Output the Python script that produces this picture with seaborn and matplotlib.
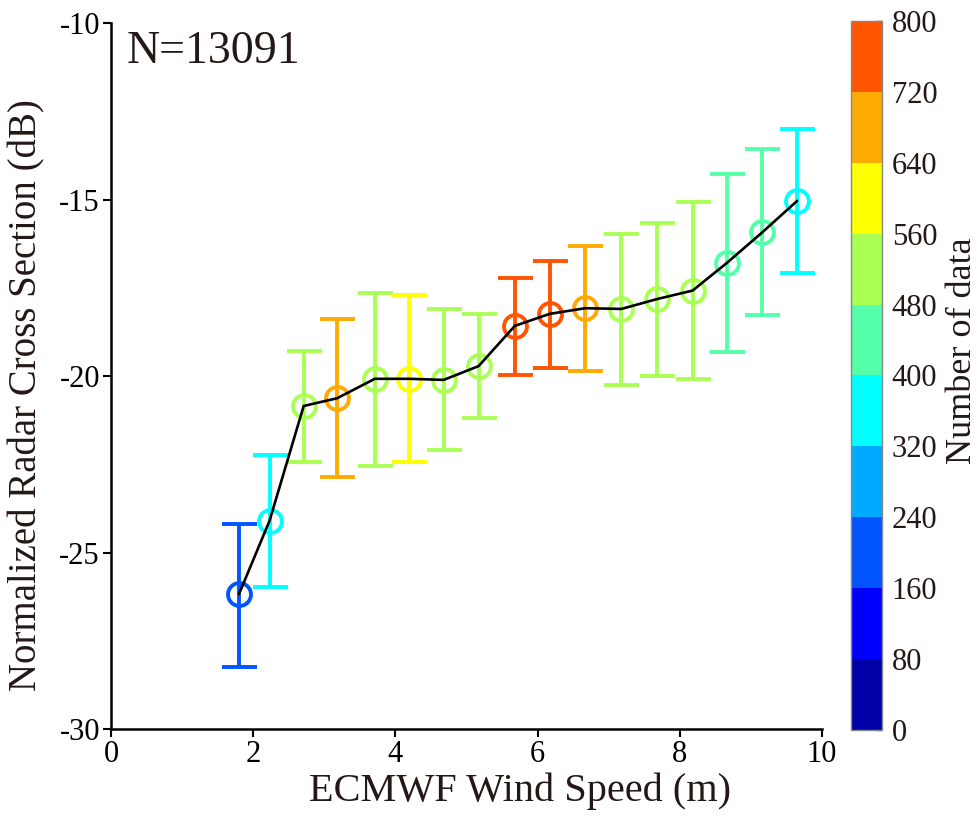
import numpy as np
import pandas as pd
import matplotlib
matplotlib.use("Agg")
import matplotlib.pyplot as plt
from matplotlib.colors import ListedColormap, BoundaryNorm
import seaborn as sns

# ---- data ----
wind = [1.80, 2.23, 2.71, 3.18, 3.71, 4.19, 4.68, 5.17, 5.68, 6.17, 6.67, 7.18, 7.68, 8.18, 8.66, 9.16, 9.65]
nrcs = [-26.18, -24.10, -20.85, -20.63, -20.08, -20.08, -20.11, -19.72, -18.58, -18.24, -18.08, -18.10, -17.82, -17.58, -16.80, -15.93, -15.04]
upper = [-24.20, -22.23, -19.29, -18.39, -17.65, -17.70, -18.11, -18.24, -17.21, -16.73, -16.32, -15.98, -15.66, -15.06, -14.27, -13.58, -13.00]
lower = [-28.23, -25.97, -22.45, -22.87, -22.54, -22.45, -22.10, -21.20, -19.96, -19.77, -19.85, -20.25, -19.99, -20.09, -19.31, -18.27, -17.09]
counts = [200, 360, 520, 680, 540, 600, 530, 500, 750, 760, 700, 550, 540, 520, 470, 440, 380]
cbar_ticks = [0, 80, 160, 240, 320, 400, 480, 560, 640, 720, 800]
level_colors = ["#0000A8", "#0000FF", "#0055FF", "#00AAFF", "#00FFFF",
                "#55FFAA", "#AAFF55", "#FFFF00", "#FFAA00", "#FF5500"]
n_total = "N=13091"

df = pd.DataFrame({"wind": wind, "nrcs": nrcs, "upper": upper, "lower": lower, "count": counts})

sns.set_theme(style="ticks")
plt.rcParams["font.family"] = ["Liberation Serif", "DejaVu Serif"]
plt.rcParams["axes.unicode_minus"] = False

cmap = ListedColormap(level_colors)
norm = BoundaryNorm(cbar_ticks, cmap.N)

fig = plt.figure(figsize=(9.78, 8.27), dpi=100)
ax = fig.add_axes([111/978, 1-729/827, (822-111)/978, (729-23)/827])
cax = fig.add_axes([851/978, 1-730/827, 31/978, (730-21)/827])

for _, r in df.iterrows():
    c = cmap(norm(r["count"]))
    ax.errorbar(r["wind"], r["nrcs"],
                yerr=[[r["nrcs"] - r["lower"]], [r["upper"] - r["nrcs"]]],
                fmt="o", mfc="none", mec=c, ecolor=c, ms=16.5, mew=2.8,
                elinewidth=2.8, capsize=12.6, capthick=2.8, zorder=2)

sns.lineplot(data=df, x="wind", y="nrcs", color="black", lw=1.9, ax=ax,
             zorder=3, estimator=None, sort=False)

ax.set_xlim(0, 10)
ax.set_ylim(-30, -10)
ax.set_xticks([0, 2, 4, 6, 8, 10])
ax.set_yticks([-30, -25, -20, -15, -10])
ax.tick_params(axis="both", direction="out", length=6, width=1.5, labelsize=22,
               colors="black", pad=2)
for s in ["top", "right"]:
    ax.spines[s].set_visible(False)
for s in ["left", "bottom"]:
    ax.spines[s].set_linewidth(1.8)
    ax.spines[s].set_color("black")
ax.set_xlabel("ECMWF Wind Speed (m)", fontsize=29, color="#231815")
ax.set_ylabel("Normalized Radar Cross Section (dB)", fontsize=28, color="#231815")
ax.xaxis.set_label_coords(0.575, -0.062)
ax.yaxis.set_label_coords(-0.092, 0.473)
ax.text(0.022, 0.99, n_total, transform=ax.transAxes, fontsize=33,
        color="#231815", va="top", ha="left")

sm = matplotlib.cm.ScalarMappable(norm=norm, cmap=cmap)
cb = fig.colorbar(sm, cax=cax, ticks=cbar_ticks)
cb.outline.set_edgecolor("#888888")
cb.outline.set_linewidth(1)
cax.tick_params(direction="in", length=4, width=1, labelsize=22, colors="#231815", pad=7)
cb.set_label("Number of data", fontsize=26, color="#231815")
cax.yaxis.set_label_coords(3.05, 0.535)

fig.savefig("out.png", dpi=100)
